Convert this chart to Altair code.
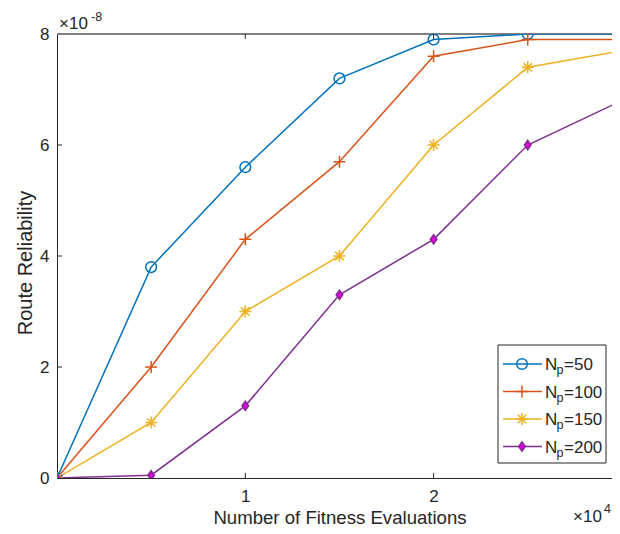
import altair as alt
import pandas as pd

# ---------------- data ----------------
evals = [0.0, 0.5, 1.0, 1.5, 2.0, 2.5, 3.0]          # x 10^4
series_names = ["Np=50", "Np=100", "Np=150", "Np=200"]
legend_suffix = ["=50", "=100", "=150", "=200"]
np50 = [0.0, 3.8, 5.6, 7.2, 7.9, 8.0, 8.0]            # x 10^-8
np100 = [0.0, 2.0, 4.3, 5.7, 7.6, 7.9, 7.9]
np150 = [0.0, 1.0, 3.0, 4.0, 6.0, 7.4, 7.7]
np200 = [0.0, 0.05, 1.3, 3.3, 4.3, 6.0, 6.8]
x_tick_values = [1, 2]
y_tick_values = [0, 2, 4, 6, 8]
inner_x_ticks = [1, 2]
inner_y_ticks = [2, 4, 6]

# ---------------- style ----------------
W, H = 555, 444
PX_PER_UNIT = 188.3
X_MAX = W / PX_PER_UNIT          # visible part of the 0..3 axis (right edge is cut)
FONT = "Liberation Sans"
TXT = "#262626"
colors = ["#0072BD", "#D95319", "#EDB120", "#7E2F8E"]
fills = [None, None, None, "#E000E0"]
plus_path = "M-1,0L1,0M0,-1L0,1"
star_path = "M-1,0L1,0M0,-1L0,1M-0.7,-0.7L0.7,0.7M-0.7,0.7L0.7,-0.7"
diamond_path = "M0,-1L0.72,0L0,1L-0.72,0Z"
shapes = ["circle", plus_path, star_path, diamond_path]
sizes = [115, 144, 144, 85]

rows = []
for name, vals in zip(series_names, [np50, np100, np150, np200]):
    for xv, yv in zip(evals, vals):
        rows.append({"series": name, "evals": xv, "value": yv})
df = pd.DataFrame(rows)

color_scale = alt.Scale(domain=series_names, range=colors)
x_scale = alt.Scale(domain=[0, X_MAX], nice=False, zero=False)
y_scale = alt.Scale(domain=[0, 8], nice=False, zero=False)

base = alt.Chart(df)

axes_layer = base.mark_line(opacity=0).encode(
    x=alt.X("evals:Q", scale=x_scale,
            axis=alt.Axis(values=x_tick_values, format="d",
                          title="Number of Fitness Evaluations",
                          ticks=False, grid=False, labelPadding=10,
                          titleX=282.5, titleY=45, titleBaseline="alphabetic",
                          domainColor=TXT, domainWidth=1, labelFontSize=17,
                          titleFontSize=18.6, labelColor=TXT, titleColor=TXT,
                          labelFont=FONT, titleFont=FONT, titleFontWeight="normal",
                          labelFlush=False, labelOverlap=False)),
    y=alt.Y("value:Q", scale=y_scale,
            axis=alt.Axis(values=y_tick_values, format="d", title="Route Reliability",
                          ticks=False, grid=False, labelPadding=8,
                          titleX=-26, titleY=228.5, titleBaseline="alphabetic",
                          domainColor=TXT, domainWidth=1, labelFontSize=17,
                          titleFontSize=20, labelColor=TXT, titleColor=TXT,
                          labelFont=FONT, titleFont=FONT, titleFontWeight="normal",
                          labelFlush=False, labelOverlap=False)),
    detail="series:N",
)

one = pd.DataFrame({"k": [0]})

top_border = alt.Chart(one).mark_rule(color="#808080", strokeWidth=2).encode(
    x=alt.value(0), x2=alt.value(W), y=alt.value(0))

lines = base.mark_line(strokeWidth=1.5, clip=True).encode(
    x=alt.X("evals:Q", scale=x_scale),
    y=alt.Y("value:Q", scale=y_scale),
    color=alt.Color("series:N", scale=color_scale, legend=None),
    order="evals:Q",
)


def marker_props(i):
    p = dict(shape=shapes[i], size=sizes[i], stroke=colors[i], strokeWidth=1.5, opacity=1)
    if fills[i] is None:
        p["filled"] = False
    else:
        p["filled"] = True
        p["fill"] = fills[i]
    return p


point_layers = []
for i, name in enumerate(series_names):
    point_layers.append(
        alt.Chart(df[df["series"] == name]).mark_point(clip=True, **marker_props(i)).encode(
            x=alt.X("evals:Q", scale=x_scale),
            y=alt.Y("value:Q", scale=y_scale),
        )
    )

xt = pd.DataFrame({"evals": inner_x_ticks})
yt = pd.DataFrame({"value": inner_y_ticks})
tick_bottom = alt.Chart(xt).mark_rule(color=TXT, strokeWidth=1).encode(
    x=alt.X("evals:Q", scale=x_scale), y=alt.value(H - 5), y2=alt.value(H))
tick_top = alt.Chart(xt).mark_rule(color=TXT, strokeWidth=1).encode(
    x=alt.X("evals:Q", scale=x_scale), y=alt.value(0), y2=alt.value(5))
tick_left = alt.Chart(yt).mark_rule(color=TXT, strokeWidth=1).encode(
    y=alt.Y("value:Q", scale=y_scale), x=alt.value(0), x2=alt.value(5))

# exponent annotations
exp_y_base = alt.Chart(one).mark_text(text="×10", font=FONT, fontSize=17, color=TXT,
                                      align="left", baseline="alphabetic").encode(
    x=alt.value(2), y=alt.value(-5))
exp_y_sup = alt.Chart(one).mark_text(text="-8", font=FONT, fontSize=12.5, color=TXT,
                                     align="left", baseline="alphabetic").encode(
    x=alt.value(34), y=alt.value(-13))
exp_x_base = alt.Chart(one).mark_text(text="×10", font=FONT, fontSize=17, color=TXT,
                                      align="left", baseline="alphabetic").encode(
    x=alt.value(516), y=alt.value(H + 44))
exp_x_sup = alt.Chart(one).mark_text(text="4", font=FONT, fontSize=12.5, color=TXT,
                                     align="left", baseline="alphabetic").encode(
    x=alt.value(547), y=alt.value(H + 35))

# manual legend
leg = pd.DataFrame({
    "series": series_names,
    "suffix": legend_suffix,
    "ly": [330, 357.5, 385, 412.5],
})
leg["ly_text"] = leg["ly"] + 6
leg["ly_sub"] = leg["ly"] + 10

leg_box = alt.Chart(one).mark_rect(fill="white", stroke="#262626", strokeWidth=1).encode(
    x=alt.value(441), x2=alt.value(549), y=alt.value(311), y2=alt.value(429))
leg_lines = alt.Chart(leg).mark_rule(strokeWidth=1.5).encode(
    x=alt.value(446), x2=alt.value(485),
    y=alt.Y("ly:Q", scale=None),
    color=alt.Color("series:N", scale=color_scale, legend=None))
leg_mark_layers = []
for i, name in enumerate(series_names):
    leg_mark_layers.append(
        alt.Chart(leg[leg["series"] == name]).mark_point(**marker_props(i)).encode(
            x=alt.value(465), y=alt.Y("ly:Q", scale=None))
    )
leg_N = alt.Chart(leg).mark_text(text="N", font=FONT, fontSize=17, color=TXT,
                                 align="left", baseline="alphabetic").encode(
    x=alt.value(488), y=alt.Y("ly_text:Q", scale=None))
leg_p = alt.Chart(leg).mark_text(text="p", font=FONT, fontSize=12.5, color=TXT,
                                 align="left", baseline="alphabetic").encode(
    x=alt.value(499.5), y=alt.Y("ly_sub:Q", scale=None))
leg_suffix = alt.Chart(leg).mark_text(font=FONT, fontSize=17, color=TXT,
                                      align="left", baseline="alphabetic").encode(
    x=alt.value(507), y=alt.Y("ly_text:Q", scale=None),
    text="suffix:N")

chart = alt.layer(
    axes_layer, top_border, lines, *point_layers,
    tick_bottom, tick_top, tick_left,
    exp_y_base, exp_y_sup, exp_x_base, exp_x_sup,
    leg_box, leg_lines, *leg_mark_layers, leg_N, leg_p, leg_suffix,
).properties(
    width=W, height=H,
    autosize=alt.AutoSizeParams(type="none"),
    padding={"left": 49, "top": 26, "right": 0, "bottom": 48},
).configure_view(stroke=None).configure(background="white")

chart.save("out.html", embed_options={"renderer": "svg", "actions": False})
